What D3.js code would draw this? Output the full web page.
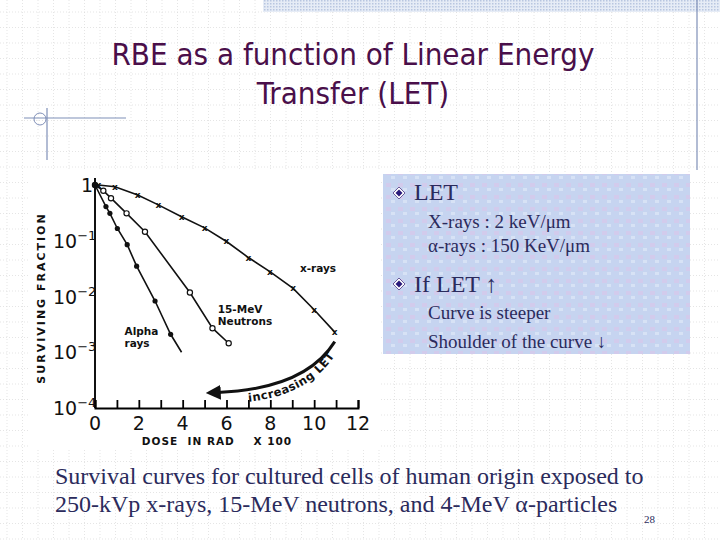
<!DOCTYPE html>
<html><head><meta charset="utf-8">
<script src="https://cdn.jsdelivr.net/npm/d3@7"></script>
<style>body{margin:0;background:#fff}svg{display:block}</style>
</head><body><svg id="s" width="720" height="540"></svg>
<script>
const xrayDose=[0.15,0.91,1.95,2.89,3.95,5.0,6.0,7.0,7.98,9.04,10.0,10.94];
const xraySurv=[1,0.93,0.66,0.44,0.27,0.17,0.097,0.05,0.028,0.014,0.0058,0.0023];
const neutDose=[0,0.38,0.73,1.44,2.28,4.33,5.36,6.1];
const neutSurv=[1,0.79,0.58,0.31,0.145,0.0118,0.0027,0.00145];
const alphaDose=[0,0.5,0.68,1.02,1.47,1.9,2.74,3.45,3.95];
const alphaSurv=[1,0.41,0.31,0.166,0.085,0.035,0.0083,0.0021,0.001];
const xTicks=[0,2,4,6,8,10,12];
const yTicks=[1,0.1,0.01,0.001,0.0001];
const yTickLabels=["1","10","10","10","10"];
const yTickExp=["","−1","−2","−3","−4"];

const svg=d3.select("#s");
const g0=svg.append("g");
for(let x=7;x<720;x+=15.5)g0.append("line").attr("x1",x).attr("x2",x).attr("y1",0).attr("y2",540).attr("stroke","#d4d4d4").attr("stroke-width",0.6).attr("stroke-dasharray","1,2");
for(let y=12;y<540;y+=15.5)g0.append("line").attr("x1",0).attr("x2",720).attr("y1",y).attr("y2",y).attr("stroke","#d4d4d4").attr("stroke-width",0.6).attr("stroke-dasharray","1,2");
const defs=svg.append("defs");
const pat=defs.append("pattern").attr("id","hatch").attr("width",3).attr("height",3).attr("patternUnits","userSpaceOnUse");
pat.append("rect").attr("width",3).attr("height",3).attr("fill","#e6ecf6");
pat.append("rect").attr("width",1.5).attr("height",1.5).attr("fill","#b8c6e0");
svg.append("rect").attr("x",263).attr("y",0).attr("width",457).attr("height",12).attr("fill","url(#hatch)");
svg.append("line").attr("x1",697).attr("x2",697).attr("y1",0).attr("y2",170).attr("stroke","#7f8fb8").attr("stroke-width",1.2);
svg.append("line").attr("x1",24).attr("x2",126).attr("y1",118).attr("y2",118).attr("stroke","#7f8fb8").attr("stroke-width",1.2);
svg.append("line").attr("x1",47).attr("x2",47).attr("y1",108).attr("y2",160).attr("stroke","#7f8fb8").attr("stroke-width",1.2);
svg.append("circle").attr("cx",40).attr("cy",119).attr("r",6).attr("fill","none").attr("stroke","#7f8fb8");

svg.append("text").attr("x",353).attr("y",65).attr("text-anchor","middle").attr("font-family","DejaVu Sans Condensed, Liberation Sans").attr("font-size",31).attr("fill","#4a0f4a").text("RBE as a function of Linear Energy");
svg.append("text").attr("x",353).attr("y",104).attr("text-anchor","middle").attr("font-family","DejaVu Sans Condensed, Liberation Sans").attr("font-size",31).attr("fill","#4a0f4a").text("Transfer (LET)");

svg.append("rect").attr("x",30).attr("y",170).attr("width",350).attr("height",280).attr("fill","#fff");
const x=d3.scaleLinear().domain([0,12]).range([95,358]);
const y=d3.scaleLog().domain([1e-4,1]).range([408,185]);
const c=svg.append("g").attr("font-family","DejaVu Sans, Arial").attr("fill","#111");
c.append("line").attr("x1",95).attr("x2",95).attr("y1",178).attr("y2",408).attr("stroke","#111").attr("stroke-width",2);
c.append("g").attr("transform","translate(0,408)").call(d3.axisTop(x).ticks(12).tickSize(8).tickFormat(""))
 .call(g=>{g.select(".domain").attr("stroke-width",2);g.selectAll("line").attr("stroke-width",1.8);});
xTicks.forEach(t=>c.append("text").attr("x",x(t)).attr("y",430).attr("text-anchor","middle").attr("font-size",19).text(t));
yTicks.forEach((t,i)=>{
  const tx=c.append("text").attr("x",i==0?81:53).attr("y",y(t)+7).attr("font-size",19).text(yTickLabels[i]);
  if(yTickExp[i])tx.append("tspan").attr("dy",-8).attr("font-size",13).text(yTickExp[i]);
});
c.append("text").attr("x",217).attr("y",445).attr("text-anchor","middle").attr("font-size",10.5).attr("font-weight","bold").attr("letter-spacing",1).attr("xml:space","preserve").text("DOSE  IN RAD    X 100");
c.append("text").attr("transform","translate(45,298) rotate(-90)").attr("text-anchor","middle").attr("font-size",11).attr("font-weight","bold").attr("letter-spacing",2).text("SURVIVING FRACTION");

const line=d3.line().x(d=>x(d[0])).y(d=>y(d[1]));
const sets=[[xrayDose,xraySurv,"x"],[neutDose,neutSurv,"o"],[alphaDose,alphaSurv,"f"]];
sets.forEach(([dx,sy,k])=>{
  const pts=dx.map((d,i)=>[d,sy[i]]);
  c.append("path").attr("d",line(pts)).attr("fill","none").attr("stroke","#111").attr("stroke-width",1.6);
  const n=k==="f"?pts.length-1:pts.length;
  pts.slice(0,n).forEach(p=>{
    const px=x(p[0]),py=y(p[1]);
    if(k==="x")c.append("text").attr("x",px).attr("y",py+3).attr("text-anchor","middle").attr("font-size",9).attr("font-weight","bold").text("x");
    else if(k==="o")c.append("circle").attr("cx",px).attr("cy",py).attr("r",2.6).attr("fill","#fff").attr("stroke","#111").attr("stroke-width",1.2);
    else c.append("circle").attr("cx",px).attr("cy",py).attr("r",2.6).attr("fill","#111");
  });
});
const lab=(t,dx,sy,dy)=>c.append("text").attr("x",x(dx)).attr("y",y(sy)+(dy||0)).attr("font-size",10.5).attr("font-weight","bold").text(t);
lab("x-rays",9.35,0.028);
lab("15-MeV",5.6,0.005);lab("Neutrons",5.6,0.005,12);
lab("Alpha",1.35,0.002);lab("rays",1.35,0.002,12);
defs.append("marker").attr("id","ah").attr("viewBox","0 0 10 10").attr("refX",2).attr("refY",5).attr("markerWidth",5).attr("markerHeight",5).attr("orient","auto-start-reverse")
 .append("path").attr("d","M0,0L10,5L0,10z").attr("fill","#111");
const ap=d3.path();ap.moveTo(x(10.94),y(0.00155));ap.quadraticCurveTo(x(9.6),y(0.00022),x(5.6),y(0.00019));
c.append("path").attr("d",ap.toString()).attr("fill","none").attr("stroke","#111").attr("stroke-width",3).attr("marker-end","url(#ah)");
const tp=d3.path();tp.moveTo(x(7.0),y(0.00013));tp.quadraticCurveTo(x(9.9),y(0.00017),x(11.1),y(0.0011));
defs.append("path").attr("id","tp").attr("d",tp.toString());
c.append("text").attr("font-size",11.5).attr("font-weight","bold").attr("letter-spacing",0.5).append("textPath").attr("href","#tp").text("increasing LET");

const bp=defs.append("pattern").attr("id","tex").attr("width",12).attr("height",12).attr("patternUnits","userSpaceOnUse");
bp.append("rect").attr("width",12).attr("height",12).attr("fill","#c6d4f0");
bp.append("rect").attr("x",2).attr("y",3).attr("width",5).attr("height",4).attr("fill","#d8c8ea").attr("opacity",0.7);
bp.append("rect").attr("x",7).attr("y",8).attr("width",4).attr("height",3).attr("fill","#dbe6f6").attr("opacity",0.8);
svg.append("rect").attr("x",383).attr("y",174).attr("width",307).attr("height",180).attr("fill","url(#tex)");
const tf="Liberation Serif, Times New Roman";
const diamond=(cx,cy)=>{svg.append("path").attr("d",`M${cx},${cy-6}L${cx+6},${cy}L${cx},${cy+6}L${cx-6},${cy}Z`).attr("fill","#fff").attr("stroke","#6a5a9a");
 svg.append("path").attr("d",`M${cx},${cy-3.5}L${cx+3.5},${cy}L${cx},${cy+3.5}L${cx-3.5},${cy}Z`).attr("fill","#2a1a7a");};
diamond(399,193);diamond(399,284);
const T=(t,xx,yy,fs)=>svg.append("text").attr("x",xx).attr("y",yy).attr("font-family",tf).attr("font-size",fs).attr("fill","#2b2b5c").text(t);
T("LET",414,200,24);T("X-rays : 2 keV/μm",428,228,19);T("α-rays : 150 KeV/μm",428,252,19);
T("If LET ↑",414,292,24);T("Curve is steeper",428,319,19);T("Shoulder of the curve ↓",428,348,19);
T("Survival curves for cultured cells of human origin exposed to",55,484,24);
T("250-kVp x-rays, 15-MeV  neutrons, and 4-MeV α-particles",55,512,24);
T("28",644,523,11);
</script></body></html>
